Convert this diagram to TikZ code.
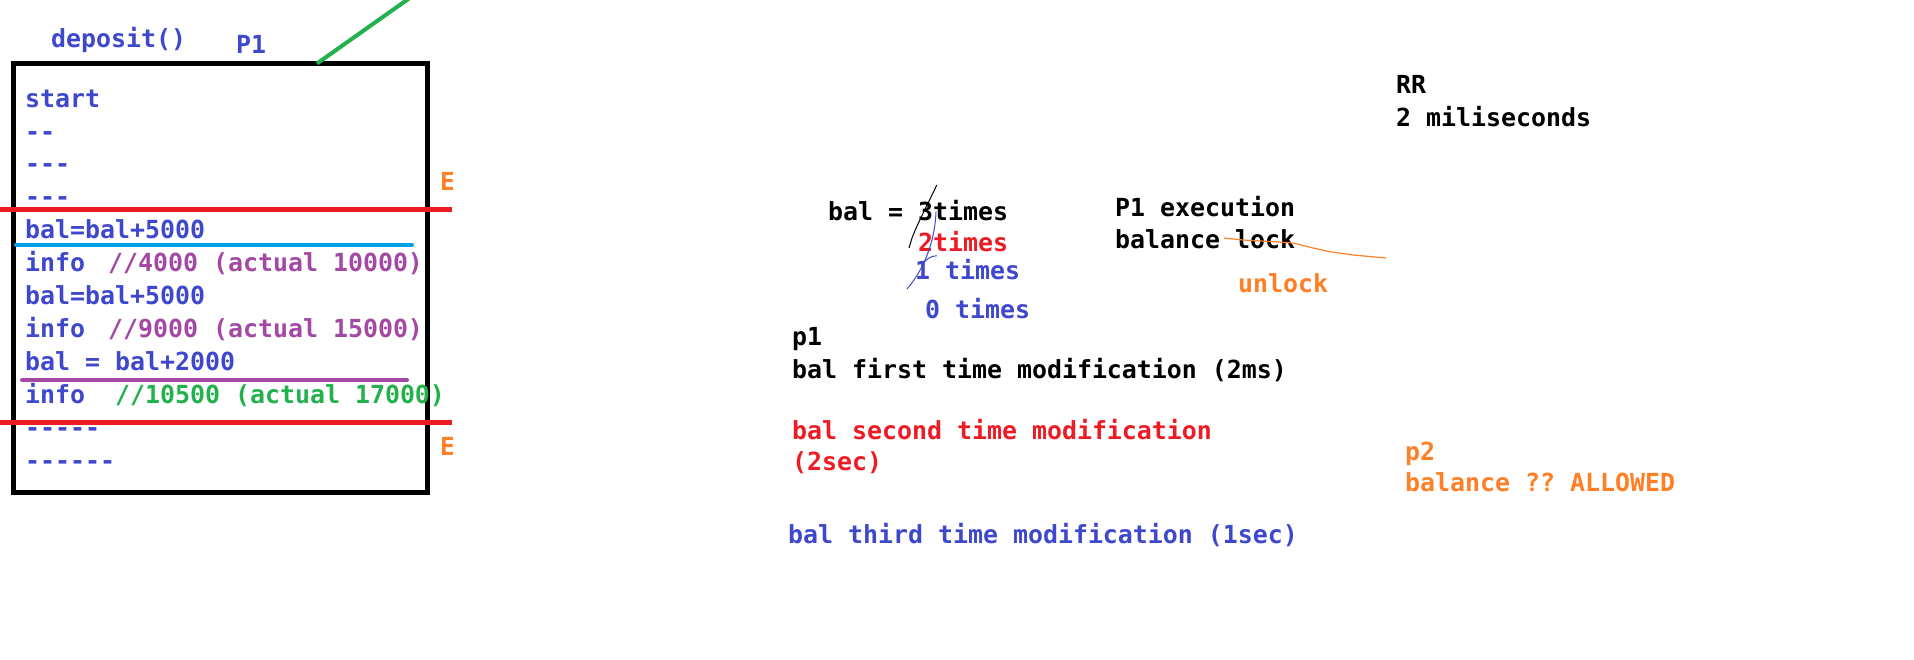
\documentclass[tikz,border=0pt]{standalone}
\usepackage{fontspec}
\newfontfamily\cmono{DejaVu Sans Mono}
\definecolor{blueT}{HTML}{3F48CC}
\definecolor{purpleT}{HTML}{A349A4}
\definecolor{greenT}{HTML}{22B14C}
\definecolor{redT}{HTML}{ED1C24}
\definecolor{orangeT}{HTML}{FF7F27}
\definecolor{cyanT}{HTML}{00A2E8}
\newcommand\hy{\mbox{-}}
\frenchspacing
\begin{document}
\begin{tikzpicture}[x=1pt,y=-1pt,
  txt/.style={anchor=base west, inner sep=0pt, font=\cmono\bfseries\fontsize{24.9}{30}\selectfont\frenchspacing},
  bl/.style={txt, text=blueT},
  pu/.style={txt, text=purpleT},
  gr/.style={txt, text=greenT},
  rd/.style={txt, text=redT},
  og/.style={txt, text=orangeT},
  bk/.style={txt, text=black}]
\useasboundingbox[fill=white] (0,0) rectangle (1914,659);

% box
\node[draw=black, line width=5pt, minimum width=414pt, minimum height=428.5pt, inner sep=0pt] (box) at (220,277.75) {};
\coordinate (gA) at (317,63.5);
\coordinate (gB) at (409,-1.5);
\draw[greenT, line width=4pt] (gA) -- (gB);

\node[bl] (dep) at (51,47) {deposit()};
\node[bl] (p1top) at (236,53) {P1};

% code lines
\node[bl] (l1) at (25,107) {start};
\node[bl] (l2) at (25,140) {\hy\hy};
\node[bl] (l3) at (25,172) {\hy\hy\hy};
\node[bl] (l4) at (25,205) {\hy\hy\hy};
\node[bl] (l5) at (25,238) {bal=bal+5000};
\node[bl] (l6) at (25,271) {info};
\node[pu] (c6) at (108,271) {//4000 (actual 10000)};
\node[bl] (l7) at (25,304) {bal=bal+5000};
\node[bl] (l8) at (25,337) {info};
\node[pu] (c8) at (108,337) {//9000 (actual 15000)};
\node[bl] (l9) at (25,370) {bal = bal+2000};
\node[bl] (l10) at (25,403) {info};
\node[gr] (c10) at (115,403) {//10500 (actual 17000)};
\node[bl] (l11) at (25,436) {\hy\hy\hy\hy\hy};
\node[bl] (l12) at (25,469) {\hy\hy\hy\hy\hy\hy};

% horizontal marks
\coordinate (r1a) at (0,209.5);  \coordinate (r1b) at (452,209.5);
\coordinate (r2a) at (0,422.5);  \coordinate (r2b) at (452,422.5);
\draw[redT, line width=4.5pt] (r1a) -- (r1b);
\draw[redT, line width=4.5pt] (r2a) -- (r2b);
\coordinate (cya) at (16,244.5); \coordinate (cyb) at (412,244.5);
\draw[cyanT, line width=4pt, line cap=round] (cya) -- (cyb);
\coordinate (pua) at (22,380); \coordinate (pub) at (407,380);
\draw[purpleT, line width=4pt, line cap=round] (pua) -- (pub);

\begin{scope}
\clip (0,0) rectangle (452,659);
\node[og] (e1) at (440,190) {E};
\node[og] (e2) at (440,455) {E};
\end{scope}

% right side
\node[bk] (bal3) at (828,220) {bal = 3times};
\node[rd] (t2) at (918,251) {2times};
\node[bl] (t1) at (915,279) {1 times};
\node[bl] (t0) at (925,318) {0 times};
\draw[black, line width=1pt] (936.7,185) .. controls (930,200) and (918,222) .. (912,238) -- (909,248);
\draw[blueT, line width=1pt] (936,211.7) .. controls (935,240) and (925,268) .. (907,289);
\draw[blueT, line width=1pt] (921.7,265) .. controls (926,259) and (931,256) .. (936.7,255.7);

\node[bk] (p1) at (792,345) {p1};
\node[bk] (m1) at (792,378) {bal first time modification (2ms)};
\node[rd] (m2) at (792,439) {bal second time modification};
\node[rd] (m2b) at (792,470) {(2sec)};
\node[bl] (m3) at (788,543) {bal third time modification (1sec)};

\node[bk] (exe) at (1115,216) {P1 execution};
\node[bk] (lock) at (1115,248) {balance lock};
\node[og] (unl) at (1238,292) {unlock};
\draw[orangeT, line width=1.2pt] (1224,238) -- (1243,240) -- (1273,241.7) -- (1293,243) -- (1313,248) -- (1330,251.7) -- (1353,255) -- (1386,258);

\node[bk] (rr) at (1396,93) {RR};
\node[bk] (ms) at (1396,126) {2 miliseconds};
\node[og] (p2) at (1405,460) {p2};
\node[og] (allow) at (1405,491) {balance ?? ALLOWED};
\end{tikzpicture}
\end{document}
